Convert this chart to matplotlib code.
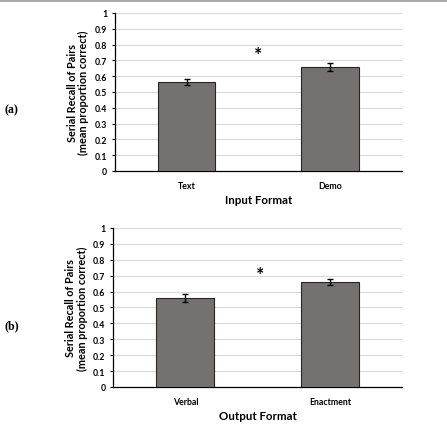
import numpy as np
import matplotlib
matplotlib.use("Agg")
import matplotlib.pyplot as plt
from matplotlib.lines import Line2D

# --- Data ---
input_labels = ["Text", "Demo"]
input_means = [0.565, 0.66]
input_err = [0.02, 0.025]

output_labels = ["Verbal", "Enactment"]
output_means = [0.56, 0.66]
output_err = [0.025, 0.02]

yticks = [0, 0.1, 0.2, 0.3, 0.4, 0.5, 0.6, 0.7, 0.8, 0.9, 1]
ytick_labels = ["0", "0.1", "0.2", "0.3", "0.4", "0.5", "0.6", "0.7", "0.8", "0.9", "1"]

plt.rcParams['font.family'] = ['Lato', 'DejaVu Sans']

fig = plt.figure(figsize=(4.47, 4.31), dpi=100)

# thin gray rule across the top
fig.add_artist(Line2D([0, 1], [0.995, 0.995], transform=fig.transFigure,
                      color="#9a9a9a", lw=1.2))

BAR = "#767171"
GRID = "#d9d9d9"


def panel(rect, labels, means, errs, xlabel, tag, star_x, star_y):
    ax = fig.add_axes(rect)
    x = np.arange(len(labels))
    ax.bar(x, means, width=0.4, color=BAR, edgecolor="#262626", linewidth=0.8,
           zorder=3)
    ax.errorbar(x, means, yerr=errs, fmt="none", ecolor="black", elinewidth=1.0,
                capsize=2.5, capthick=1.0, zorder=4)
    ax.set_xlim(-0.5, 1.5)
    ax.set_ylim(0, 1)
    ax.set_yticks(yticks)
    ax.set_yticklabels(ytick_labels, fontsize=6.3, fontweight="bold")
    ax.set_xticks(x)
    ax.set_xticklabels(labels, fontsize=6.3, fontweight="bold")
    ax.tick_params(axis="x", length=0, pad=7)
    ax.tick_params(axis="y", length=2.5, width=0.8, pad=3, direction="out")
    ax.yaxis.grid(True, color=GRID, lw=0.8, zorder=0)
    ax.set_axisbelow(True)
    for s in ["top", "right"]:
        ax.spines[s].set_visible(False)
    ax.spines["left"].set_linewidth(0.9)
    ax.spines["bottom"].set_linewidth(0.9)
    ax.set_ylabel("Serial Recall of Pairs\n(mean proportion correct)",
                  fontsize=7.8, fontweight="bold", labelpad=4, linespacing=1.05)
    ax.set_xlabel(xlabel, fontsize=8.3, fontweight="bold", labelpad=3)
    ax.text(star_x, star_y, "*", fontsize=14, fontweight="bold",
            ha="center", va="center")
    fig.text(0.01, rect[1] + rect[3] * 0.39, tag, fontsize=8.5,
             fontweight="bold", family="Liberation Serif", va="center")
    return ax


panel([0.257, 0.601, 0.642, 0.3666], input_labels, input_means, input_err,
      "Input Format", "(a)", 0.5, 0.74)
panel([0.253, 0.0998, 0.647, 0.369], output_labels, output_means, output_err,
      "Output Format", "(b)", 0.52, 0.71)

fig.savefig("out.png", dpi=100)
